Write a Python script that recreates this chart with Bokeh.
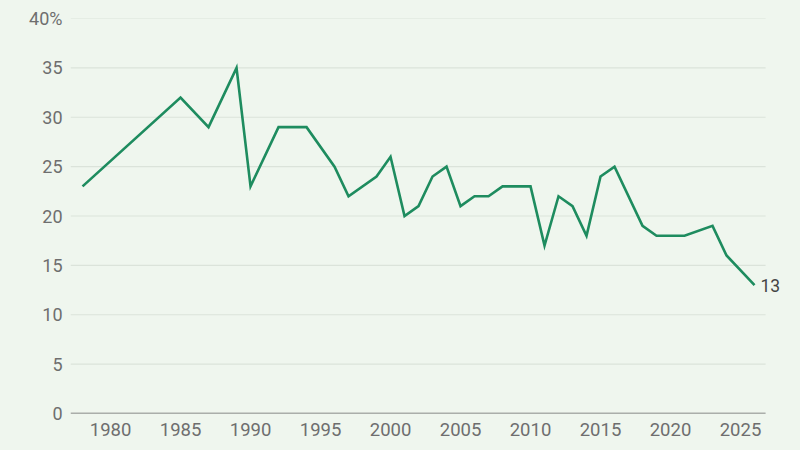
from bokeh.plotting import figure
from bokeh.models import FixedTicker, Range1d, Label
from bokeh.embed import file_html
from bokeh.resources import INLINE

years = [1978, 1985, 1987, 1989, 1990, 1992, 1994, 1996, 1997, 1999, 2000, 2001, 2002,
         2003, 2004, 2005, 2006, 2007, 2008, 2009, 2010, 2011, 2012, 2013, 2014, 2015,
         2016, 2018, 2019, 2021, 2023, 2024, 2026]
values = [23, 32, 29, 35, 23, 29, 29, 25, 22, 24, 26, 20, 21,
          24, 25, 21, 22, 22, 23, 23, 23, 17, 22, 21, 18, 24,
          25, 19, 18, 18, 19, 16, 13]
x_ticks = [1980, 1985, 1990, 1995, 2000, 2005, 2010, 2015, 2020, 2025]
y_ticks = [0, 5, 10, 15, 20, 25, 30, 35, 40]
y_labels = ["0", "5", "10", "15", "20", "25", "30", "35", "40%"]

BG = "#eff6ee"
FONT = "Roboto"
TXT = "#6e6e6e"

# axis/grid extent in data units (the visible axis span)
X_START, X_END = 1977.14, 2026.79

p = figure(width=796, height=446, output_backend="svg", toolbar_location=None,
           x_range=Range1d(X_START, 2028.57), y_range=Range1d(0, 40),
           min_border_left=70, min_border_right=6, min_border_top=18, min_border_bottom=33)
p.background_fill_color = BG
p.border_fill_color = BG
p.outline_line_color = None

# horizontal grid lines over the axis span
grid_y = y_ticks[1:]
p.segment(x0=[X_START] * len(grid_y), x1=[X_END] * len(grid_y), y0=grid_y, y1=grid_y,
          line_color="#dbe3da", line_width=1.2)
# x axis baseline
p.segment(x0=[X_START], x1=[X_END], y0=[y_ticks[0]], y1=[y_ticks[0]],
          line_color="#666666", line_width=1.6)

p.line(years, values, line_color="#1e8c5f", line_width=2.6, line_join="miter")

lbl = Label(x=years[-1], y=values[-1], text=str(values[-1]), x_offset=6, y_offset=0,
            text_baseline="middle", text_align="left", text_font=FONT,
            text_font_size="17.5px", text_color="#444444")
p.add_layout(lbl)

p.xgrid.grid_line_color = None
p.ygrid.grid_line_color = None

p.yaxis.ticker = FixedTicker(ticks=y_ticks)
p.yaxis.major_label_overrides = {t: l for t, l in zip(y_ticks, y_labels)}
p.yaxis.axis_line_color = None
p.yaxis.major_tick_line_color = None
p.yaxis.major_tick_out = 0
p.yaxis.major_tick_in = 0
p.yaxis.minor_tick_line_color = None
p.yaxis.major_label_standoff = 8
p.yaxis.major_label_text_font = FONT
p.yaxis.major_label_text_font_size = "18px"
p.yaxis.major_label_text_color = TXT

p.xaxis.ticker = FixedTicker(ticks=x_ticks)
p.xaxis.axis_line_color = None
p.xaxis.major_tick_line_color = None
p.xaxis.major_tick_out = 0
p.xaxis.major_tick_in = 0
p.xaxis.minor_tick_line_color = None
p.xaxis.major_label_standoff = 9
p.xaxis.major_label_text_font = FONT
p.xaxis.major_label_text_font_size = "18.5px"
p.xaxis.major_label_text_color = TXT

html = file_html(p, INLINE)
html = html.replace("<head>", "<head><style>html,body{background:%s;margin:0;padding:0;}</style>" % BG, 1)
open("out.html", "w").write(html)
